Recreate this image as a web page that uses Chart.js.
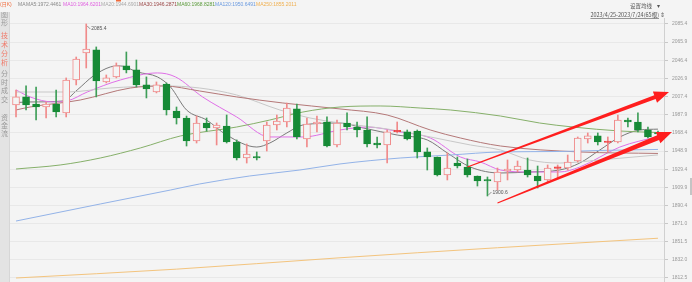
<!DOCTYPE html>
<html>
<head>
<meta charset="utf-8">
<script src="https://cdn.jsdelivr.net/npm/chart.js@4.4.0/dist/chart.umd.min.js"></script>
<style>
  html, body { margin: 0; padding: 0; background: #f4f4f4; }
  #wrap { width: 692px; height: 282px; position: relative; }
</style>
</head>
<body>
<div id="wrap"><canvas id="kChart"></canvas></div>
<script>
// 日K 数据 (2023/4/25 - 2023/7/24, 65根)
const opens = [1998.4, 2007.0, 1999.4, 1996.2, 1999.4, 1989.8, 2025.2, 2054.2, 2057.5, 2023.1,
  2028.5, 2040.3, 2036.0, 2019.9, 2012.3, 2020.9, 1991.9, 1984.4, 1959.7, 1979.0,
  1973.7, 1975.8, 1958.6, 1941.4, 1942.5, 1959.7, 1976.9, 1980.1, 1994.1, 1961.8,
  1977.9, 1980.1, 1955.4, 1979.0, 1974.7, 1971.5, 1957.5, 1955.4, 1969.4, 1969.4,
  1970.4, 1947.9, 1942.5, 1923.1, 1936.0, 1931.7, 1922.1, 1917.8, 1915.6, 1927.4,
  1928.5, 1928.5, 1922.1, 1917.8, 1930.2, 1930.7, 1938.2, 1961.8, 1965.1, 1958.1,
  1958.6, 1982.2, 1980.1, 1971.5, 1968.3];
const highs = [2014.5, 2018.8, 2017.7, 2001.6, 2014.5, 2027.4, 2049.9, 2085.4, 2060.7, 2030.6,
  2043.5, 2055.3, 2046.7, 2028.5, 2023.1, 2022.0, 1996.2, 1986.5, 1986.5, 1984.4,
  1979.0, 1987.6, 1960.8, 1956.5, 1947.9, 1980.1, 1987.6, 2000.5, 1999.4, 1984.4,
  1986.5, 1985.5, 1982.2, 1989.8, 1980.1, 1985.5, 1964.0, 1971.5, 1980.1, 1971.5,
  1971.5, 1952.2, 1942.5, 1946.8, 1942.5, 1940.3, 1922.1, 1921.0, 1930.7, 1939.3,
  1938.2, 1941.4, 1932.8, 1933.9, 1933.9, 1944.6, 1964.0, 1968.3, 1968.3, 1964.0,
  1987.6, 1984.4, 1989.8, 1974.7, 1970.4];
const lows = [1985.5, 1993.0, 1982.2, 1984.4, 1985.5, 1985.5, 2019.9, 2038.1, 2007.0, 2022.0,
  2027.4, 2032.8, 2017.7, 2005.9, 2011.3, 1987.6, 1977.9, 1954.3, 1957.5, 1970.4,
  1955.4, 1957.5, 1939.3, 1936.0, 1939.3, 1948.9, 1971.5, 1974.7, 1961.8, 1953.2,
  1969.4, 1953.2, 1953.2, 1971.5, 1964.0, 1953.2, 1952.2, 1936.0, 1968.3, 1960.8,
  1941.4, 1928.5, 1922.1, 1917.8, 1930.7, 1921.0, 1911.3, 1900.6, 1907.0, 1917.8,
  1926.4, 1921.0, 1909.2, 1915.6, 1919.9, 1928.5, 1937.1, 1957.5, 1955.4, 1947.9,
  1957.5, 1974.7, 1969.4, 1962.9, 1965.1];
const closes = [2007.0, 1998.4, 1996.2, 1999.4, 1990.8, 2025.2, 2047.8, 2058.5, 2024.2, 2027.4,
  2040.3, 2036.0, 2019.9, 2015.6, 2019.9, 1993.0, 1984.4, 1959.7, 1979.0, 1973.7,
  1976.9, 1958.6, 1941.4, 1945.7, 1941.4, 1976.9, 1981.2, 1995.1, 1964.0, 1977.9,
  1980.1, 1954.3, 1979.0, 1974.7, 1971.5, 1956.5, 1955.4, 1969.4, 1970.4, 1961.8,
  1947.9, 1942.5, 1923.1, 1930.7, 1932.8, 1923.1, 1916.7, 1916.7, 1926.4, 1929.6,
  1932.8, 1923.1, 1916.7, 1930.7, 1930.7, 1937.1, 1962.9, 1965.1, 1958.6, 1958.6,
  1982.2, 1980.1, 1971.5, 1964.0, 1967.2];

// 均线 (读自图上: [K线序号, 数值])
const ma5 = [[0, 2001.0], [1.4, 2001.6], [4.7, 2002.7], [6.1, 2014.5], [7.7, 2029.5], [9.4, 2039.2],
  [10.4, 2040.3], [12.1, 2033.8], [14.1, 2028.5], [15.4, 2017.7], [17.0, 1993.0], [19.0, 1982.2],
  [21.0, 1966.1], [24.0, 1953.2], [25.3, 1957.5], [27.0, 1968.3], [28.6, 1976.9], [32.3, 1979.0],
  [34.6, 1973.7], [38.0, 1966.1], [41.0, 1960.8], [43.0, 1946.8], [45.3, 1931.7], [48.3, 1925.3],
  [51.2, 1926.4], [54.2, 1928.5], [56.2, 1936.0], [58.2, 1950.0], [60.2, 1964.0], [62.2, 1971.5],
  [64, 1972.4]];
const ma10 = [[0, 2014.5], [1.4, 2007.0], [3.7, 2001.6], [5.1, 2002.7], [7.1, 2012.3], [10.4, 2025.2],
  [14.1, 2032.8], [15.9, 2028.5], [18.6, 2007.0], [22.0, 1985.5], [25.3, 1964.0], [28.6, 1964.0],
  [32.3, 1971.5], [35.0, 1974.7], [38.3, 1969.4], [41.3, 1962.9], [44.3, 1942.5], [46.3, 1937.1],
  [48.3, 1928.5], [51.2, 1926.4], [54.2, 1926.4], [56.2, 1931.7], [60.2, 1953.2], [64, 1964.6]];
const ma20 = [[0, 2012.3], [5.1, 2012.3], [9.4, 2016.6], [14.7, 2018.8], [18.3, 2016.6], [22.0, 2009.1],
  [26.3, 1993.0], [29.3, 1984.4], [32.3, 1979.0], [37.0, 1972.6], [41.3, 1964.0], [45.3, 1955.4],
  [48.3, 1950.0], [51.2, 1939.3], [54.2, 1936.0], [58.2, 1939.3], [64, 1944.7]];
const ma30 = [[0, 1993.0], [1.4, 1996.2], [6.4, 2003.7], [11.4, 2016.6], [14.7, 2018.8], [18.3, 2013.4],
  [22.0, 2007.0], [26.6, 2000.5], [32.3, 1994.1], [37.0, 1987.6], [41.3, 1971.5], [44.3, 1962.9],
  [48.3, 1954.3], [56.2, 1947.9], [64, 1946.3]];
const ma60 = [[0, 1929.6], [4.4, 1933.9], [8.4, 1941.4], [12.4, 1952.2], [16.4, 1965.1], [22.0, 1974.7],
  [25.3, 1982.2], [28.6, 1990.8], [32.3, 1996.2], [36.3, 1997.3], [40.3, 1995.1], [43.3, 1993.0],
  [48.3, 1986.5], [52.2, 1979.0], [55.5, 1974.7], [60.2, 1970.4], [64, 1968.8]];
const ma120 = [[0, 1873.7], [8.4, 1892.0], [15.4, 1907.0], [18.3, 1913.5], [23.3, 1922.1], [28.3, 1928.5],
  [32.3, 1935.0], [38.3, 1941.4], [43.3, 1944.6], [48.3, 1947.9], [54.2, 1948.4], [58.2, 1949.5],
  [64, 1950.6]];
const ma250 = [[0, 1812.5], [16, 1822.0], [32, 1834.0], [48, 1845.0], [64, 1855.2]];

// 右侧价格刻度
const tickValues = [2085.4, 2065.9, 2046.4, 2026.9, 2007.4, 1987.9, 1968.4, 1948.9, 1929.4,
  1909.9, 1890.4, 1871.0, 1851.5, 1832.0, 1812.5];
const tickLabels = ['2085.4', '2065.9', '2046.4', '2026.9', '2007.4', '1987.9', '1968.4', '1948.9',
  '1929.4', '1909.9', '1890.4', '1871.0', '1851.5', '1832.0', '1812.5'];

// 画线: 两条上升通道箭头 [序号, 价格]
const arrowUpper = [[45.0, 1931.7], [65.1, 2012.3]];
const arrowLower = [[48.0, 1893.1], [65.4, 1969.4]];

// 标注
const maxMark = { index: 7, value: 2085.4, text: '2085.4' };
const minMark = { index: 47, value: 1900.6, text: '1900.6' };

const UP = '#f08a8a';
const UP_DOJI = '#f04040';
const DOWN = '#168a36';
const DOWN_WICK = '#3e9e58';
const BG = '#f4f4f4';
const FONT = '"Liberation Sans", Arial, "Noto Sans CJK SC", sans-serif';
const CJK = '"Noto Sans CJK SC", sans-serif';

const idx = closes.map((_, i) => i);
const isUp = i => closes[i] >= opens[i];
const toXY = arr => arr.map(p => ({ x: p[0], y: p[1] }));

const maLine = (data, color) => ({
  type: 'line',
  data: toXY(data),
  borderColor: color,
  borderWidth: 1,
  pointRadius: 0,
  cubicInterpolationMode: 'monotone',
  order: 3,
});

function drawArrow(c, x0, y0, x1, y1, w0, w1, headLen, headW) {
  const dx = x1 - x0, dy = y1 - y0, len = Math.hypot(dx, dy);
  const ux = dx / len, uy = dy / len, nx = -uy, ny = ux;
  const bx = x1 - ux * headLen, by = y1 - uy * headLen;
  c.beginPath();
  c.moveTo(x0 + nx * w0 / 2, y0 + ny * w0 / 2);
  c.lineTo(bx + nx * w1 / 2, by + ny * w1 / 2);
  c.lineTo(bx + nx * headW, by + ny * headW);
  c.lineTo(x1, y1);
  c.lineTo(bx - nx * headW, by - ny * headW);
  c.lineTo(bx - nx * w1 / 2, by - ny * w1 / 2);
  c.lineTo(x0 - nx * w0 / 2, y0 - ny * w0 / 2);
  c.closePath();
  c.fill();
}

const decorPlugin = {
  id: 'decor',
  beforeDraw(chart) {
    const c = chart.ctx;
    c.save();
    c.fillStyle = BG;
    c.fillRect(0, 0, chart.width, chart.height);
    c.restore();
  },
  afterDatasetsDraw(chart) {
    const c = chart.ctx, xs = chart.scales.x, ys = chart.scales.y;
    c.save();
    // 趋势箭头
    c.fillStyle = '#ff1e1e';
    [arrowUpper, arrowLower].forEach((a, k) => {
      const x0 = xs.getPixelForValue(a[0][0]), y0 = ys.getPixelForValue(a[0][1]);
      const x1 = xs.getPixelForValue(a[1][0]), y1 = ys.getPixelForValue(a[1][1]);
      drawArrow(c, x0, y0, x1, y1, 1, k === 0 ? 4 : 5, 15, 6);
    });
    // 最高/最低价标注
    c.font = '5px ' + FONT;
    c.fillStyle = '#555';
    c.strokeStyle = '#777';
    c.lineWidth = 0.8;
    c.textBaseline = 'middle';
    let px = xs.getPixelForValue(maxMark.index), py = ys.getPixelForValue(maxMark.value);
    c.beginPath(); c.moveTo(px + 1, py + 2); c.lineTo(px + 4, py + 5); c.stroke();
    c.fillText(maxMark.text, px + 5, py + 5);
    px = xs.getPixelForValue(minMark.index); py = ys.getPixelForValue(minMark.value);
    c.beginPath(); c.moveTo(px + 1, py - 1); c.lineTo(px + 4, py - 4); c.stroke();
    c.fillText(minMark.text, px + 5, py - 3);
    c.restore();
  },
  afterDraw(chart) {
    const c = chart.ctx;
    c.save();
    // 左侧栏
    c.fillStyle = '#e3e3e3';
    c.fillRect(0, 12, 9, chart.height - 12);
    c.fillStyle = '#d6d6d6';
    c.fillRect(9, 12, 1, chart.height - 12);
    c.beginPath(); c.rect(0, 12, 9, chart.height - 12); c.clip();
    c.font = '7px ' + CJK;
    c.textBaseline = 'middle';
    const side = [
      ['图', 14, '#999'], ['形', 22, '#999'],
      ['技', 35, '#f07a6a'], ['术', 44, '#f07a6a'], ['分', 53, '#f07a6a'], ['析', 62, '#f07a6a'],
      ['分', 73, '#999'], ['时', 82, '#999'], ['成', 90, '#999'], ['交', 99, '#999'],
      ['资', 117, '#999'], ['金', 125, '#999'], ['流', 133, '#999'],
    ];
    side.forEach(s => { c.fillStyle = s[2]; c.fillText(s[0], 1, s[1]); });
    c.restore();

    c.save();
    // 顶部均线说明
    c.font = '5px ' + FONT;
    c.textBaseline = 'middle';
    const head = [
      ['(日K)', 0, '#f06a3a'], ['MA', 18, '#888'], ['MA5:1972.4461', 26, '#888'],
      ['MA10:1964.6201', 63, '#e060e0'], ['MA20:1944.6901', 101, '#aaa'],
      ['MA30:1946.2871', 139, '#9b4848'], ['MA60:1968.8281', 177, '#5a9a3a'],
      ['MA120:1950.6491', 215, '#6a9ae0'], ['MA250:1855.2011', 256, '#f0b050'],
    ];
    head.forEach(h => { c.fillStyle = h[2]; c.fillText(h[0], h[1], 5); });
    c.fillStyle = '#f06a3a';
    c.fillRect(116, 0, 5, 1.5);
    // 右上角
    c.fillStyle = '#555';
    c.font = '5.5px ' + CJK;
    c.textAlign = 'right';
    c.fillText('设置均线', 652, 6);
    c.fillText('▾', 660, 6);
    const range = '2023/4/25-2023/7/24(65根)';
    c.fillText(range, 659, 15);
    const w = c.measureText(range).width;
    c.fillRect(659 - w, 18, w, 0.6);
    c.textAlign = 'left';
    c.fillText('⇕', 660, 15);
    // 右侧滚动条
    c.fillStyle = '#c4c4c4';
    c.fillRect(690, 178, 2, 17);
    c.restore();
  },
};

const ctx = document.getElementById('kChart').getContext('2d');
const chart = new Chart(ctx, {
  type: 'bar',
  data: {
    datasets: [
      {
        // 实体
        data: idx.map(i => ({ x: i, y: [opens[i], closes[i]] })),
        grouped: false,
        barThickness: 7,
        minBarLength: 1.5,
        borderWidth: 1,
        borderSkipped: false,
        borderColor: c => (isUp(c.dataIndex) ? (closes[c.dataIndex] - opens[c.dataIndex] < 1.2 ? UP_DOJI : UP) : DOWN),
        backgroundColor: c => (isUp(c.dataIndex) ? (closes[c.dataIndex] - opens[c.dataIndex] < 1.2 ? UP_DOJI : BG) : DOWN),
        order: 1,
      },
      {
        // 影线
        data: idx.map(i => ({ x: i, y: [lows[i], highs[i]] })),
        grouped: false,
        barThickness: 1,
        borderWidth: 0,
        backgroundColor: c => (isUp(c.dataIndex) ? UP : DOWN_WICK),
        order: 2,
      },
      maLine(ma250, '#f3c47e'),
      maLine(ma120, '#93b3e8'),
      maLine(ma60, '#86b06a'),
      maLine(ma30, '#b47878'),
      maLine(ma20, '#c8c8c8'),
      maLine(ma10, '#e070e8'),
      maLine(ma5, '#7a7a7a'),
    ],
  },
  options: {
    responsive: true,
    maintainAspectRatio: false,
    animation: false,
    events: [],
    layout: { padding: { left: 10, top: 18, right: 0, bottom: 0 } },
    plugins: { legend: { display: false }, tooltip: { enabled: false } },
    scales: {
      x: { type: 'linear', min: -0.6, max: 64.6, offset: false, display: false },
      y: {
        position: 'right',
        min: 1808.2,
        max: 2091.8,
        afterBuildTicks: s => { s.ticks = tickValues.map(v => ({ value: v })); },
        afterFit: s => { s.width = 28; s.paddingTop = 0; s.paddingBottom = 0; },
        ticks: {
          callback: (v, i) => tickLabels[i],
          font: { size: 5, family: FONT },
          color: '#999',
          padding: 4,
        },
        grid: { color: '#e8e8e8', tickColor: '#c8c8c8', tickLength: 4 },
        border: { color: '#d0d0d0' },
      },
    },
  },
  plugins: [decorPlugin],
});
</script>
</body>
</html>
